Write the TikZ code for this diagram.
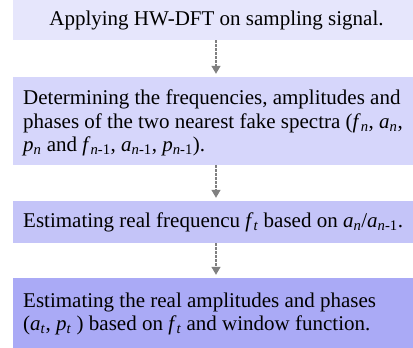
\documentclass[tikz,border=0pt]{standalone}
\usepackage{fontspec}
\setmainfont{Liberation Serif}
\usetikzlibrary{arrows.meta}
\definecolor{boxA}{HTML}{E6E6FC}
\definecolor{boxB}{HTML}{D6D6FB}
\definecolor{boxC}{HTML}{C4C4F8}
\definecolor{boxD}{HTML}{AAAAF6}
\definecolor{arr}{HTML}{808080}
\newcommand{\sbi}[2]{\textit{#1}\textsubscript{\textit{#2}}}
\newcommand{\sbm}[2]{\textit{#1}\textsubscript{\textit{#2}-1}}
\tikzset{
  stepbox/.style={fill=#1, draw=none, minimum width=400pt, inner sep=0pt},
  steptext/.style={inner sep=0pt, align=left, font=\fontsize{21}{23.5}\selectfont},
  flowarrow/.style={arr, line width=1.3pt, dash pattern=on 2.5pt off 1.5pt,
    -{Triangle[width=9pt,length=8pt]}, shorten >=3pt}
}
\begin{document}
\begin{tikzpicture}[x=1pt,y=-1pt]
\useasboundingbox (0,0) rectangle (413,348);
\node[stepbox=boxA, minimum height=40pt] (b1) at (213,20) {};
\node[stepbox=boxB, minimum height=88pt] (b2) at (213,121) {};
\node[stepbox=boxC, minimum height=42pt] (b3) at (213,222) {};
\node[stepbox=boxD, minimum height=70pt] (b4) at (213,313) {};
\node[steptext, align=center] (t1) at (216.5,20) {Applying HW-DFT on sampling signal.};
\node[steptext, anchor=west] (t2) at (23,123)
 {Determining the frequencies, amplitudes and\\ phases of the two nearest fake spectra (\sbi{f}{n}, \sbi{a}{n},\\ \sbi{p}{n} and \sbm{f}{n}, \sbm{a}{n}, \sbm{p}{n}).};
\node[steptext, anchor=west] (t3) at (23,222)
 {Estimating real frequencu \sbi{f}{t} based on \sbi{a}{n}/\sbm{a}{n}.};
\node[steptext, anchor=west] (t4) at (23,314)
 {Estimating the real amplitudes and phases\\ (\sbi{a}{t}, \sbi{p}{t} ) based on \sbi{f}{t} and window function.};
\draw[flowarrow] (b1.south -| 216,0) -- (b2.north -| 216,0);
\draw[flowarrow] (b2.south -| 216,0) -- (b3.north -| 216,0);
\draw[flowarrow] (b3.south -| 216,0) -- (b4.north -| 216,0);
\end{tikzpicture}
\end{document}
